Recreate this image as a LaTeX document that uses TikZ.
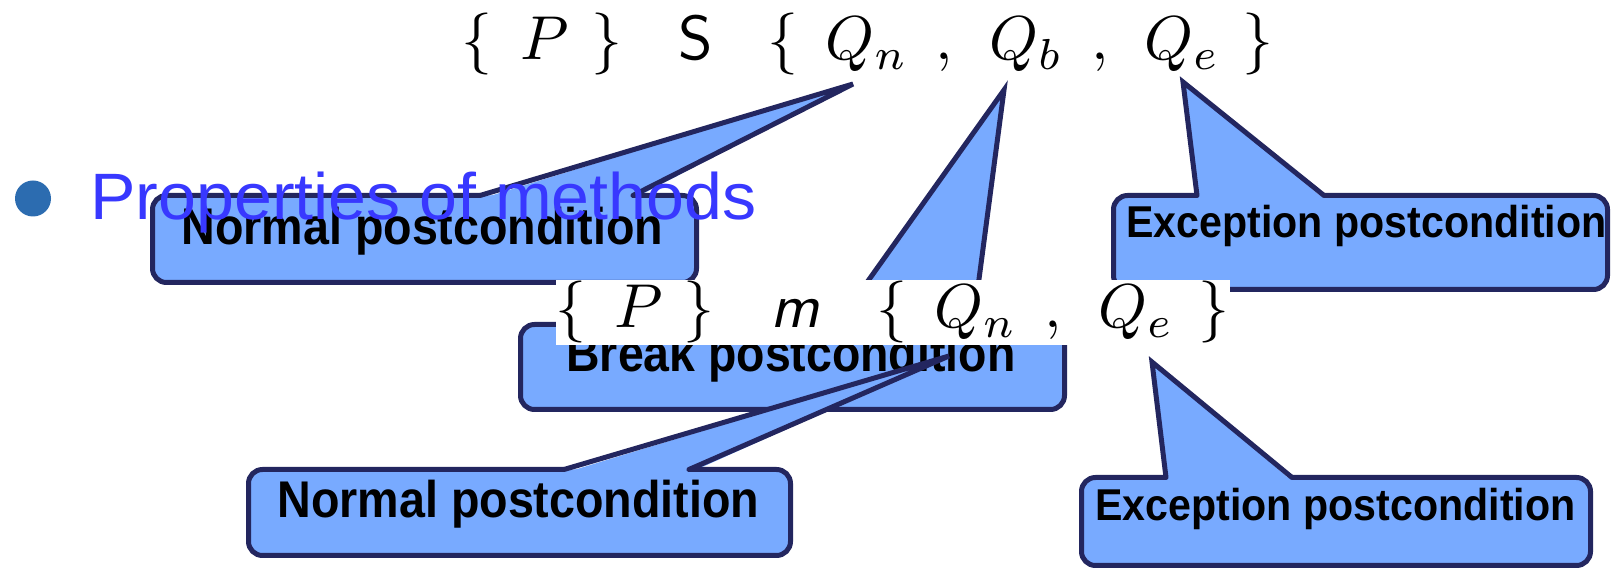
\documentclass[tikz,border=0pt]{standalone}
\usepackage[no-math]{fontspec}
\newfontfamily\cfont{Liberation Sans}
\definecolor{cofillc}{RGB}{120,170,255}
\definecolor{colinec}{RGB}{35,38,95}
\definecolor{titleblue}{RGB}{56,56,255}
\definecolor{bulletc}{RGB}{44,108,176}
\newcommand\fitw[2]{\resizebox{#1}{\height}{#2}}
\newcommand\mbig[1]{\scalebox{3.1}{#1}}
% #1 xL, #2 yT, #3 xR, #4 yB (outer edges, px), #5 base-left x, #6 base-right x, #7 tip coordinate
\newcommand\callout[7]{%
  \fill[cofillc,rounded corners=7pt] ({#1+2.5},{#2+2.5}) rectangle ({#3-2.5},{#4-2.5});
  \fill[cofillc] (#5,{#2+6}) -- (#7) -- (#6,{#2+6}) -- cycle;
  \draw[coline,rounded corners=7pt] (#6,{#2+2.5}) -- ({#3-2.5},{#2+2.5}) -- ({#3-2.5},{#4-2.5}) -- ({#1+2.5},{#4-2.5}) -- ({#1+2.5},{#2+2.5}) -- (#5,{#2+2.5});
  \draw[coline,line join=miter,line cap=round] (#5,{#2+2.5}) -- (#7) -- (#6,{#2+2.5});
}
\tikzset{
  coline/.style={draw=colinec,line width=2.5pt},
  mtok/.style={anchor=base west,inner sep=0pt,font=\normalsize},
  bigtext/.style={anchor=base west,inner sep=0pt,font=\cfont\bfseries\fontsize{25.8}{26}\selectfont},
  smalltext/.style={anchor=base west,inner sep=0pt,font=\cfont\bfseries\fontsize{22.3}{23}\selectfont},
}
\begin{document}
\begin{tikzpicture}[x=0.5pt,y=-0.5pt]
\useasboundingbox (0,0) rectangle (1613,571);
% pointer tips
\coordinate (tipA) at (853,84);
\coordinate (tipB) at (1004,90);
\coordinate (tipC) at (949,356);
\coordinate (tipD) at (1183,82);
\coordinate (tipE) at (1152,362);
% box 1: Normal postcondition (top)
\callout{150}{193}{699}{285}{480}{633}{tipA}
\node[bigtext] (n1) at (181,245) {\fitw{241pt}{Normal postcondition}};
% box 4: Exception postcondition (top right)
\callout{1111}{193}{1610}{292}{1197}{1324}{tipD}
\node[smalltext] (e1) at (1126,238) {\fitw{240pt}{Exception postcondition}};
% box 2: Break postcondition
\callout{518}{322}{1067}{412}{837}{973}{tipB}
\node[bigtext] (b1) at (566,372) {\fitw{224.5pt}{Break postcondition}};
% box 3: Normal postcondition (bottom)
\callout{246}{467}{793}{558}{564}{689}{tipC}
\node[bigtext] (n2) at (277,517) {\fitw{241pt}{Normal postcondition}};
% box 5: Exception postcondition (bottom right)
\callout{1079}{475}{1593}{568}{1166}{1292}{tipE}
\node[smalltext] (e2) at (1095,521) {\fitw{240pt}{Exception postcondition}};
% second formula on white ground
\fill[white] (556,280) rectangle (1230,345);
\node[mtok] (g1) at (555.5,328) {\mbig{$\{$}};
\node[mtok] (g2) at (614,328) {\mbig{$P$}};
\node[mtok] (g3) at (683.5,328) {\mbig{$\}$}};
\node[mtok] (g4) at (770,328) {\mbig{\textsf{\slshape m}}};
\node[mtok] (g5) at (876.5,328) {\mbig{$\{$}};
\node[mtok] (g6) at (933.7,328) {\mbig{$Q_n$}};
\node[mtok] (g7) at (1044,328) {\mbig{$,$}};
\node[mtok] (g8) at (1097.7,328) {\mbig{$Q_e$}};
\node[mtok] (g9) at (1198.5,328) {\mbig{$\}$}};
% first formula
\node[mtok] (f1) at (461.5,60) {\mbig{$\{$}};
\node[mtok] (f2) at (520,60) {\mbig{$P$}};
\node[mtok] (f3) at (591.5,60) {\mbig{$\}$}};
\node[mtok] (f4) at (678,60) {\mbig{\textsf{S}}};
\node[mtok] (f5) at (767.5,60) {\mbig{$\{$}};
\node[mtok] (f6) at (825,60) {\mbig{$Q_n$}};
\node[mtok] (f7) at (935,60) {\mbig{$,$}};
\node[mtok] (f8) at (988.7,60) {\mbig{$Q_b$}};
\node[mtok] (f9) at (1090.7,60) {\mbig{$,$}};
\node[mtok] (f10) at (1143.7,60) {\mbig{$Q_e$}};
\node[mtok] (f11) at (1242.5,60) {\mbig{$\}$}};
% bullet and title
\fill[bulletc] (33,198.5) circle[radius=18];
\node[anchor=base west,inner sep=0pt,text=titleblue,font=\cfont\fontsize{32.8}{33}\selectfont] (title) at (90,220) {\fitw{333pt}{Properties of methods}};
\end{tikzpicture}
\end{document}
